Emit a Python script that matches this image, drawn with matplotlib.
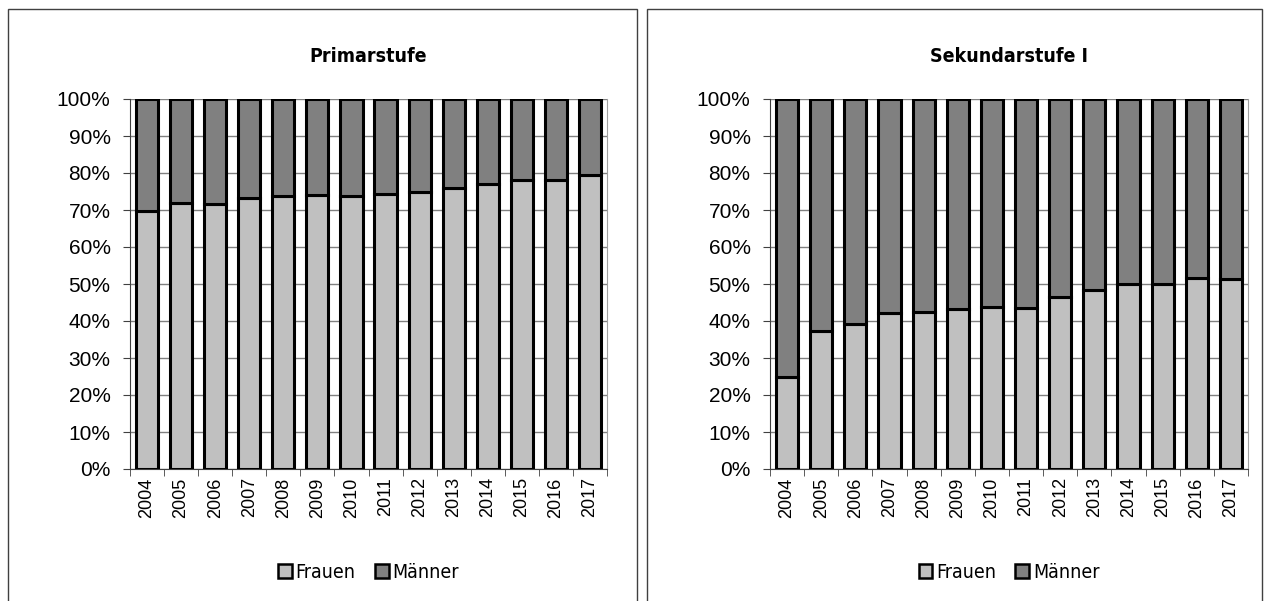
import matplotlib
matplotlib.use("Agg")
import matplotlib.pyplot as plt
from matplotlib.patches import Rectangle, Patch
from matplotlib.ticker import FixedLocator, PercentFormatter

years = [str(y) for y in range(2004, 2018)]
primar_frauen = [69.8, 72.0, 71.6, 73.2, 73.7, 74.1, 73.7, 74.4, 74.8, 75.9, 77.1, 78.0, 78.1, 79.4]
sek_frauen = [24.9, 37.3, 39.1, 42.1, 42.4, 43.2, 43.7, 43.6, 46.5, 48.5, 50.0, 49.9, 51.6, 51.4]
titles = ["Primarstufe", "Sekundarstufe I"]
series_names = ["Frauen", "Männer"]
colors = ["#C0C0C0", "#808080"]

W, H = 1266, 601
fig = plt.figure(figsize=(W / 100, H / 100), dpi=100)

sans = ["Liberation Sans", "DejaVu Sans"]

# panel borders
for (x0, x1) in [(8, 637), (647, 1262)]:
    fig.add_artist(Rectangle((x0 / W, -0.05), (x1 - x0) / W, (H - 9) / H + 0.05,
                             transform=fig.transFigure, fill=False,
                             edgecolor="#404040", linewidth=1))

axes_x = [(130, 607), (770, 1248)]
for k, (frauen, title) in enumerate([(primar_frauen, titles[0]), (sek_frauen, titles[1])]):
    x0, x1 = axes_x[k]
    ax = fig.add_axes([x0 / W, (H - 469) / H, (x1 - x0) / W, 370 / H])
    maenner = [100 - f for f in frauen]
    xs = list(range(len(years)))
    ax.bar(xs, frauen, width=0.65, color=colors[0], edgecolor="black", linewidth=2.2, zorder=3)
    ax.bar(xs, maenner, bottom=frauen, width=0.65, color=colors[1], edgecolor="black",
           linewidth=2.2, zorder=3)
    ax.set_xlim(-0.5, len(years) - 0.5)
    ax.set_ylim(0, 100)
    ax.set_yticks(range(0, 101, 10))
    ax.yaxis.set_major_formatter(PercentFormatter(decimals=0))
    ax.yaxis.grid(True, color="#808080", linewidth=1, zorder=0)
    ax.set_xticks(xs)
    ax.set_xticklabels(years, rotation=90, family=sans, fontsize=13)
    ax.xaxis.set_minor_locator(FixedLocator([i + 0.5 for i in range(-1, len(years))]))
    ax.tick_params(axis="x", which="major", length=0, pad=6)
    ax.tick_params(axis="x", which="minor", length=5, color="#404040")
    ax.tick_params(axis="y", length=5, color="#404040", labelsize=15, pad=9)
    for lab in ax.get_yticklabels():
        lab.set_family(sans)
    ax.spines["top"].set_visible(False)
    ax.spines["right"].set_color("#A0A0A0")
    ax.spines["left"].set_color("#404040")
    ax.spines["bottom"].set_color("#404040")
    cx = (x0 + x1) / 2 / W
    fig.text(cx, 1 - 57 / H, title, ha="center", va="center", fontsize=14,
             fontweight="bold", family="DejaVu Sans", fontstretch="condensed")
    handles = [Patch(facecolor=colors[i], edgecolor="black", linewidth=1.8, label=series_names[i])
               for i in range(2)]
    fig.legend(handles=handles, loc="center", bbox_to_anchor=(cx, 1 - 572 / H), ncol=2,
               frameon=False,
               prop={"family": "DejaVu Sans", "stretch": "condensed", "size": 14},
               handlelength=0.7, handleheight=0.7, handletextpad=0.2, columnspacing=1.0)

fig.savefig("out.png", dpi=100)
